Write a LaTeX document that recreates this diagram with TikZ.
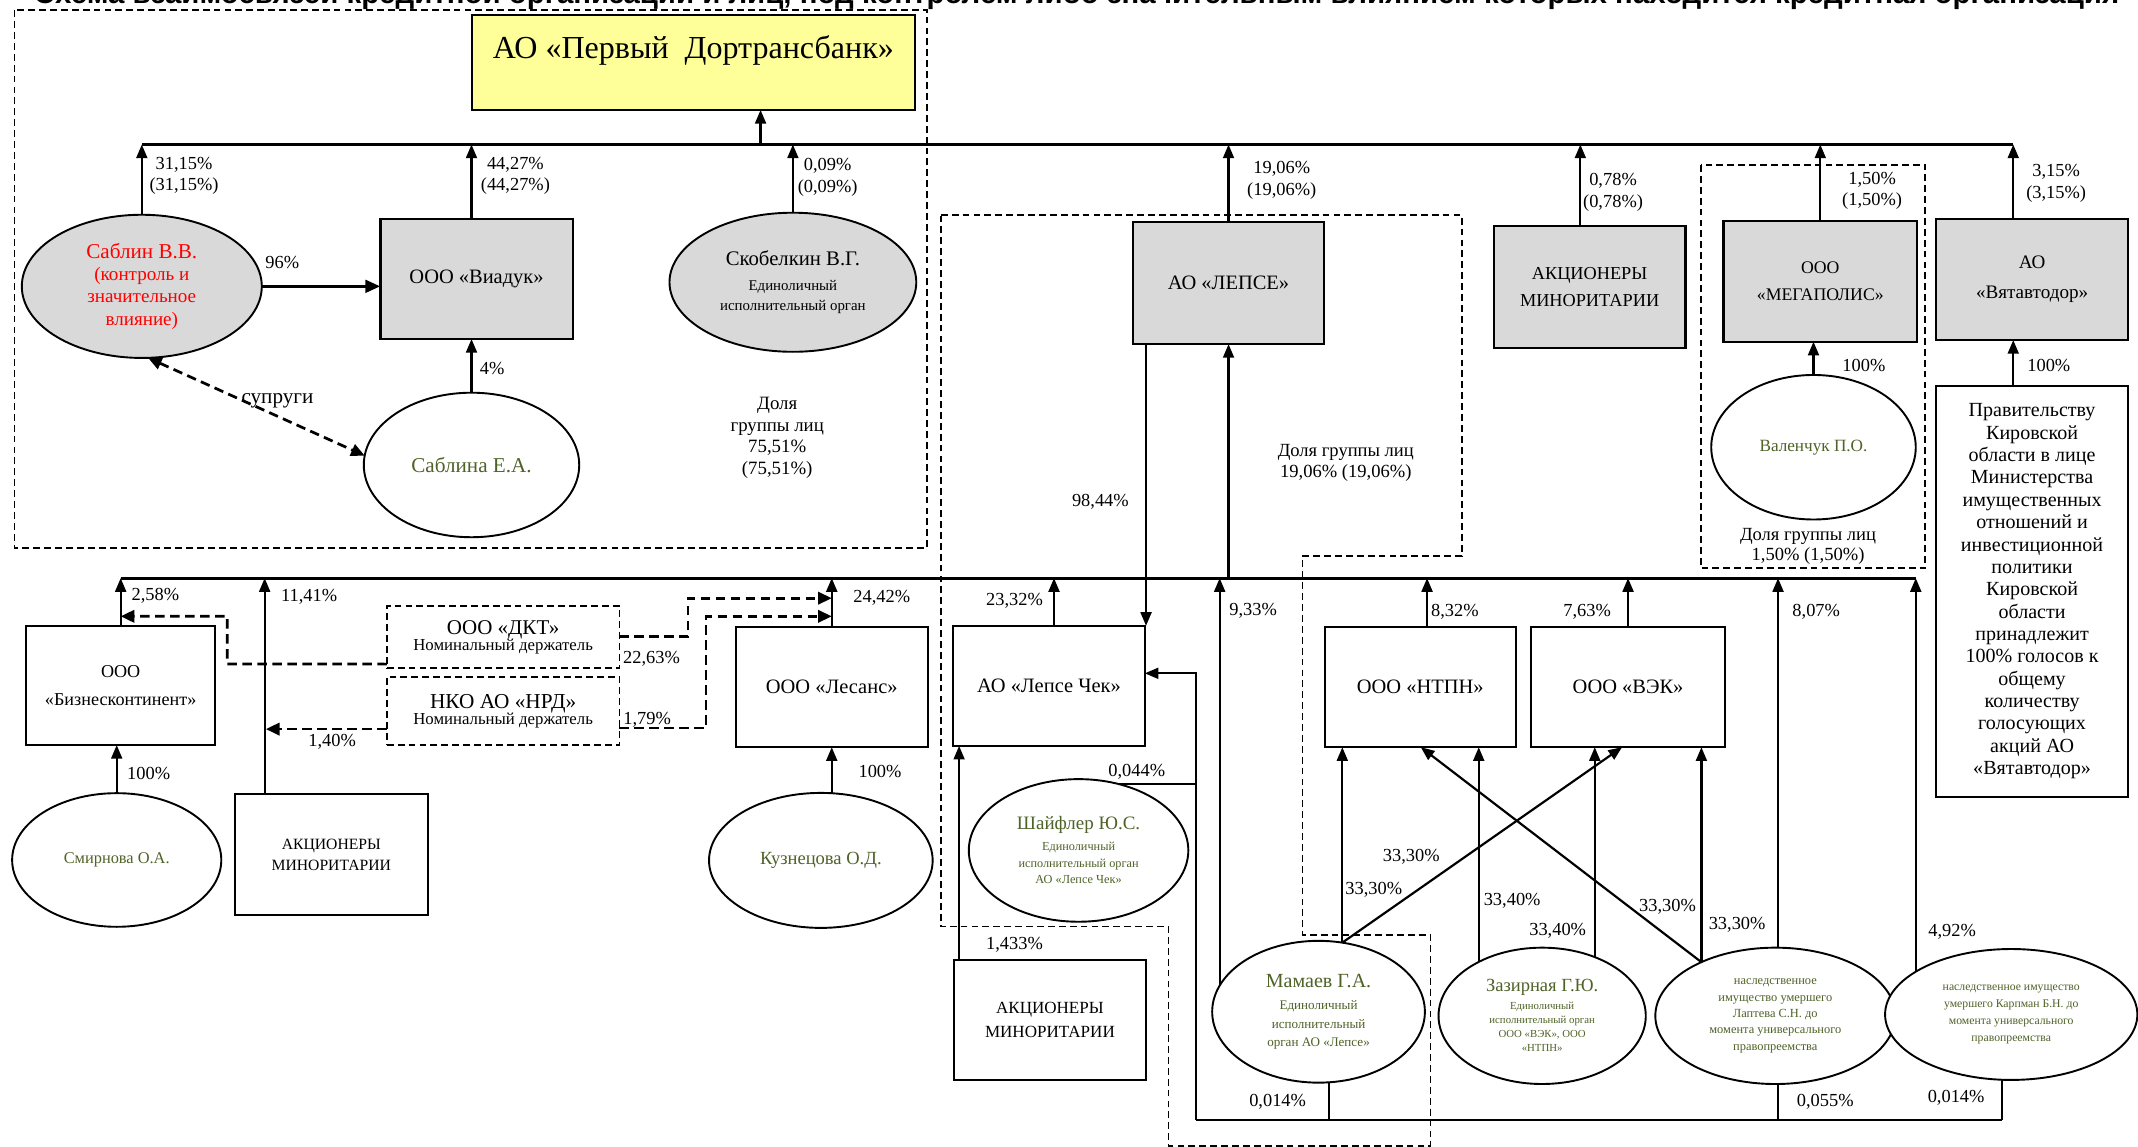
\documentclass[tikz,border=0pt]{standalone}
\usepackage{graphicx}
\usepackage{fontspec}
\setmainfont{Liberation Serif}
\setsansfont{Liberation Sans}
\usetikzlibrary{arrows.meta,shapes.geometric,backgrounds}
\definecolor{grayfill}{RGB}{217,217,217}
\definecolor{bankyellow}{RGB}{255,255,153}
\definecolor{pgreen}{RGB}{79,98,40}
\newcommand{\fs}[2]{\fontsize{#1}{#2}\selectfont}
\begin{document}
\begin{tikzpicture}[x=1pt,y=-1pt,
  lbl/.style={font={\fs{13.5}{16}}, inner sep=0pt, align=center},
  gbox/.style={draw, line width=1.7pt, fill=grayfill, inner sep=2pt, outer sep=0pt, align=center, font={\fs{15}{20}}},
  wbox/.style={draw, line width=1.5pt, fill=white, inner sep=2pt, outer sep=0pt, align=center, font={\fs{15}{20}}},
  pers/.style={ellipse, draw, line width=1.4pt, fill=white, inner sep=0pt, outer sep=0pt, align=center, text=pgreen},
  gpers/.style={pers, fill=grayfill},
  arr/.style={line width=1.6pt, -{Triangle[length=10pt,width=8pt]}},
  plain/.style={line width=1.6pt},
  bus/.style={line width=2.1pt},
  darr/.style={line width=2pt, dash pattern=on 7pt off 4pt, -{Triangle[length=10pt,width=9pt]}},
  sarr/.style={line width=2pt, dash pattern=on 7pt off 4pt, {Triangle[length=10pt,width=9pt]}-{Triangle[length=10pt,width=9pt]}},
  grp/.style={line width=1.2pt, dash pattern=on 5pt off 3pt},
  ndbox/.style={draw, line width=1.2pt, dash pattern=on 5pt off 3pt, fill=white, align=center, inner sep=1pt, outer sep=0pt}
]
\path[use as bounding box] (0,0) rectangle (1568,841);
\clip (0,0) rectangle (1568,841);

% title (cut off at the top, as in the source)
\node[anchor=base, inner sep=0pt] (title) at (789.5,2.8) {\resizebox{1529pt}{!}{\sffamily\bfseries Схема взаимосвязей кредитной организации и лиц, под контролем либо значительным влиянием которых находится кредитная организация}};

% groups
\draw[grp] (10.7,7.5) rectangle (680,401.7);
\draw[grp] (690,157.7) -- (1072,157.7) -- (1072,407.8) -- (955.3,407.8) -- (955.3,685.7) -- (1049.2,685.7) -- (1049.2,840.5) -- (857,840.5) -- (857,679.6) -- (690,679.6) -- cycle;
\draw[grp] (1247.6,121) rectangle (1412,416.7);

% bank
\node[draw, line width=1.7pt, fill=bankyellow, minimum width=325pt, minimum height=69.7pt, outer sep=0pt] (bank) at (508.5,45.8) {};
\node[font={\fs{23.5}{28}}, inner sep=0pt] (banktxt) at (508.5,36.7) {АО «Первый\ \ Дортрансбанк»};

% boxes
\node[gbox, minimum width=141pt, minimum height=88pt] (viaduk) at (349.5,204.6) {ООО «Виадук»};
\node[gbox, minimum width=140pt, minimum height=89.7pt] (lepse) at (901,207.5) {АО «ЛЕПСЕ»};
\node[gbox, minimum width=140.5pt, minimum height=89.5pt, font={\fs{13.4}{20}}] (akcR) at (1165.8,210.5) {АКЦИОНЕРЫ\\МИНОРИТАРИИ};
\node[gbox, minimum width=142pt, minimum height=88.6pt, font={\fs{13}{20}}] (mega) at (1335,206.3) {ООО\\«МЕГАПОЛИС»};
\node[gbox, minimum width=140.5pt, minimum height=88.8pt, font={\fs{14}{22}}] (vyat) at (1490.3,205) {АО\\«Вятавтодор»};
\node[wbox, minimum width=140.5pt, minimum height=301.8pt, font={\fs{14.7}{16.4}}] (prav) at (1490.3,433.7) {Правительству\\Кировской\\области в лице\\Министерства\\имущественных\\отношений и\\инвестиционной\\политики\\Кировской\\области\\принадлежит\\100\% голосов к\\общему\\количеству\\голосующих\\акций АО\\«Вятавтодор»};

\node[wbox, minimum width=139pt, minimum height=87.4pt, font={\fs{13.3}{20}}] (biz) at (88.5,502.7) {ООО\\«Бизнесконтинент»};
\node[wbox, minimum width=141.8pt, minimum height=88.6pt, font={\fs{11.5}{15.6}}] (akcL) at (243,626.7) {АКЦИОНЕРЫ\\МИНОРИТАРИИ};
\node[ndbox, minimum width=170.6pt, minimum height=45.5pt] (dkt) at (369,467.3) {{\fs{15.4}{16}ООО «ДКТ»}\\{\fs{12.3}{16}Номинальный держатель}};
\node[ndbox, minimum width=170.6pt, minimum height=49.8pt] (nrd) at (369,521.5) {{\fs{15.6}{16}НКО АО «НРД»}\\{\fs{12.3}{16}Номинальный держатель}};
\node[wbox, minimum width=141pt, minimum height=88.4pt] (lesans) at (610,503.8) {ООО «Лесанс»};
\node[wbox, minimum width=140.5pt, minimum height=88pt] (lchek) at (769.3,503) {АО «Лепсе Чек»};
\node[wbox, minimum width=141pt, minimum height=88pt, font={\fs{12.5}{17.2}}] (akcB) at (770,748) {АКЦИОНЕРЫ\\МИНОРИТАРИИ};
\node[wbox, minimum width=140.2pt, minimum height=88.4pt] (ntpn) at (1041.6,503.8) {ООО «НТПН»};
\node[wbox, minimum width=142pt, minimum height=88.4pt] (vek) at (1194,503.8) {ООО «ВЭК»};

% persons
\node[gpers, text=red, minimum width=176pt, minimum height=105pt, font={\fs{14}{16.3}}] (sablin) at (104,210) {{\fs{15.5}{16.3}Саблин В.В.}\\(контроль и\\значительное\\влияние)};
\node[gpers, text=black, minimum width=181pt, minimum height=102pt, font={\fs{10.9}{15}}] (skob) at (581.5,207) {{\fs{15.2}{19}Скобелкин В.Г.}\\[3pt]Единоличный\\исполнительный орган};
\node[pers, minimum width=158pt, minimum height=106pt, font={\fs{15.5}{18}}] (sablina) at (345.8,341) {Саблина Е.А.};
\node[pers, minimum width=150pt, minimum height=106pt, font={\fs{12.6}{15}}] (valen) at (1330,328) {Валенчук П.О.};
\node[pers, minimum width=153.4pt, minimum height=98pt, font={\fs{12}{15}}] (smirn) at (85.6,630.7) {Смирнова О.А.};
\node[pers, minimum width=164pt, minimum height=99pt, font={\fs{13.6}{15}}] (kuzn) at (602,631) {Кузнецова О.Д.};
\node[pers, minimum width=161pt, minimum height=104.6pt, font={\fs{9}{12.2}}] (shaif) at (791,623.7) {{\fs{13.9}{15}Шайфлер Ю.С.}\\[3pt]Единоличный\\исполнительный орган\\АО «Лепсе Чек»};
\node[pers, minimum width=156pt, minimum height=104pt, font={\fs{9.6}{13.5}}] (mamaev) at (967,742) {{\fs{14.7}{16}Мамаев Г.А.}\\[3pt]Единоличный\\исполнительный\\орган АО «Лепсе»};
\node[pers, minimum width=152pt, minimum height=100pt, font={\fs{7.9}{10.5}}] (zazir) at (1131,745) {{\fs{13.6}{15}Зазирная Г.Ю.}\\[2pt]Единоличный\\исполнительный орган\\ООО «ВЭК», ООО\\«НТПН»};
\node[pers, minimum width=176pt, minimum height=100pt, font={\fs{9.1}{12}}] (laptev) at (1302,745) {наследственное\\имущество умершего\\Лаптева С.Н. до\\момента универсального\\правопреемства};
\node[pers, minimum width=185pt, minimum height=96pt, font={\fs{8.6}{12.4}}] (karp) at (1475,744) {наследственное имущество\\умершего Карпман Б.Н. до\\момента универсального\\правопреемства};

% helper coordinates
\coordinate (busA) at (0,106);
\coordinate (busB) at (0,424);
\coordinate (busC) at (0,821.4);
\coordinate (busCw) at (877,821.4);
\coordinate (bankX) at ([xshift=49.3pt]bank.south);
\coordinate (akcRX) at ([xshift=-6.8pt]akcR.north);
\coordinate (vyatX) at ([xshift=-13.8pt]vyat.north);
\coordinate (pravX) at ([xshift=-13.8pt]prav.north);
\coordinate (vyatXb) at ([xshift=-13.8pt]vyat.south);
\coordinate (akcLX) at ([xshift=22pt]akcL.north west);
\coordinate (lcX) at ([xshift=3.7pt]lchek.north);
\coordinate (lepX) at ([xshift=9.5pt]lepse.south west);
\coordinate (ntX) at ([xshift=5pt]ntpn.north);
\coordinate (akcBX) at ([xshift=3.9pt]akcB.north west);
\coordinate (mamS) at ([xshift=-72.5pt]mamaev.center);
\coordinate (mamB) at ([xshift=7.5pt]mamaev.center);
\coordinate (lapC) at ([xshift=2pt]laptev.center);
\coordinate (karpS) at ([xshift=-70pt]karp.center);
\coordinate (karpB) at ([xshift=-7pt]karp.center);
\coordinate (zazL) at ([xshift=-46.5pt]zazir.center);
\coordinate (zazR) at ([xshift=38.6pt]zazir.center);
\coordinate (kuzX) at ([xshift=8pt]kuzn.center);
\coordinate (shY) at ([yshift=48.7pt]shaif.center);
\coordinate (vekD) at ([xshift=-4.4pt]vek.south);
\coordinate (ntD) at ([xshift=0.4pt]ntpn.south);

% buses
\draw[bus] (sablin.north |- busA) -- (vyatX |- busA);
\draw[bus] (biz.north |- busB) -- (karpS |- busB);
\draw[bus] (busCw) -- (karpB |- busC);

% top arrows
\draw[arr] (bankX |- busA) -- (bankX);
\draw[arr] (sablin.north) -- (sablin.north |- busA);
\draw[arr] (sablina.north |- viaduk.north) -- (sablina.north |- busA);
\draw[arr] (skob.north) -- (skob.north |- busA);
\draw[arr] (lepse.north) -- (lepse.north |- busA);
\draw[arr] (akcRX) -- (akcRX |- busA);
\draw[arr] (mega.north) -- (mega.north |- busA);
\draw[arr] (vyatX) -- (vyatX |- busA);
\draw[arr] (pravX) -- (vyatXb);
\draw[arr] (valen.north) -- (valen.north |- mega.south);
\draw[arr] (sablina.north) -- (sablina.north |- viaduk.south);
\draw[line width=2.6pt, -{Triangle[length=11pt,width=9pt]}] (sablin.east) -- (sablin.east -| viaduk.west);
\draw[sarr] (sablin.-85) -- (sablina.175);

% ЛЕПСЕ
\draw[arr] (lepse.south |- busB) -- (lepse.south);
\draw[arr] (lepX) -- (lepX |- lchek.north);

% bus B arrows
\draw[arr] (biz.north) -- (biz.north |- busB);
\draw[arr] (akcLX) -- (akcLX |- busB);
\draw[arr] (lesans.north) -- (lesans.north |- busB);
\draw[arr] (lcX) -- (lcX |- busB);
\draw[arr] (ntX) -- (ntX |- busB);
\draw[arr] (vek.north) -- (vek.north |- busB);
\draw[arr] (akcBX) -- (akcBX |- lchek.south);
\draw[arr] (busCw) |- ([yshift=9.2pt]lchek.east);

% crossed arrows
\draw[arr] (mamaev.71) -- (mamaev.71 |- ntpn.south);
\draw[arr] (mamaev.71) -- (vekD);
\draw[arr] (laptev.144) -- (laptev.144 |- vek.south);
\draw[arr] (laptev.144) -- (ntD);

\begin{pgfonlayer}{background}
\draw[arr] (smirn.center) -- (smirn.center |- biz.south);
\draw[arr] (kuzX) -- (kuzX |- lesans.south);
\draw[arr] (mamS) -- (mamS |- busB);
\draw[plain] (mamB) -- (mamB |- busC);
\draw[arr] (lapC) -- (lapC |- busB);
\draw[plain] (lapC) -- (lapC |- busC);
\draw[arr] (karpS) -- (karpS |- busB);
\draw[plain] (karpB) -- (karpB |- busC);
\draw[arr] (zazL) -- (zazL |- ntpn.south);
\draw[arr] (zazR) -- (zazR |- vek.south);
\draw[plain] (shY) -- (busCw |- shY);
\end{pgfonlayer}

% nominal holders
\draw[darr] ([yshift=3pt]dkt.south west) -- (166.7,487) -- (166.7,452) -- (88.5,452);
\draw[darr] ([yshift=-13.2pt]nrd.west) -- (195,534.7);
\draw[darr] ([yshift=0.3pt]dkt.east) -- (504.5,467) -- (504.5,438.7) -- (610,438.7);
\draw[darr] ([yshift=-12.5pt]nrd.east) -- (517.8,534) -- (517.8,452) -- (610,452);

% labels
\node[lbl] (l1) at (135,129) {31,15\%\\(31,15\%)};
\node[lbl] (l2) at (378,129) {44,27\%\\(44,27\%)};
\node[lbl] (l3) at (607,130) {0,09\%\\(0,09\%)};
\node[lbl] (l4) at (940,132) {19,06\%\\(19,06\%)};
\node[lbl] (l5) at (1183,141) {0,78\%\\(0,78\%)};
\node[lbl] (l6) at (1373,140) {1,50\%\\(1,50\%)};
\node[lbl] (l7) at (1508,134.5) {3,15\%\\(3,15\%)};
\node[lbl] (l8) at (207,192.7) {96\%};
\node[lbl] (l9) at (361,270.6) {4\%};
\node[lbl, font={\fs{15.5}{16}}] (l10) at (203.5,294) {супруги};
\node[lbl, font={\fs{13.8}{15.8}}] (l11) at (570,321) {Доля\\группы лиц\\75,51\%\\(75,51\%)};
\node[lbl, font={\fs{13.6}{15}}] (l12) at (987,339.5) {Доля группы лиц\\19,06\% (19,06\%)};
\node[lbl] (l13) at (807,368) {98,44\%};
\node[lbl] (l14) at (1367,268.4) {100\%};
\node[lbl] (l15) at (1502.6,268.4) {100\%};
\node[lbl, font={\fs{13.6}{14.5}}] (l16) at (1326,401) {Доля группы лиц\\1,50\% (1,50\%)};
\node[lbl] (l17) at (114,437) {2,58\%};
\node[lbl] (l18) at (226.7,437.6) {11,41\%};
\node[lbl] (l19) at (646.7,438.7) {24,42\%};
\node[lbl] (l20) at (744,440.8) {23,32\%};
\node[lbl] (l21) at (919,448) {9,33\%};
\node[lbl] (l22) at (1067,448.6) {8,32\%};
\node[lbl] (l23) at (1164,448.6) {7,63\%};
\node[lbl] (l24) at (1332,448.6) {8,07\%};
\node[lbl] (l25) at (477.8,483.4) {22,63\%};
\node[lbl] (l26) at (474.6,528) {1,79\%};
\node[lbl] (l27) at (243.6,544) {1,40\%};
\node[lbl] (l28) at (109,567) {100\%};
\node[lbl] (l29) at (645.4,566) {100\%};
\node[lbl] (l30) at (833.7,566) {0,044\%};
\node[lbl] (l31) at (1035,628.3) {33,30\%};
\node[lbl] (l32) at (1007.5,652.7) {33,30\%};
\node[lbl] (l33) at (1109,660.6) {33,40\%};
\node[lbl] (l34) at (1223,665) {33,30\%};
\node[lbl] (l35) at (1142.4,682.6) {33,40\%};
\node[lbl] (l36) at (1274,678.4) {33,30\%};
\node[lbl] (l37) at (1431.7,683.3) {4,92\%};
\node[lbl] (l38) at (744,693) {1,433\%};
\node[lbl] (l39) at (937,808) {0,014\%};
\node[lbl] (l40) at (1338.6,808) {0,055\%};
\node[lbl] (l41) at (1434.6,805) {0,014\%};
\end{tikzpicture}
\end{document}
